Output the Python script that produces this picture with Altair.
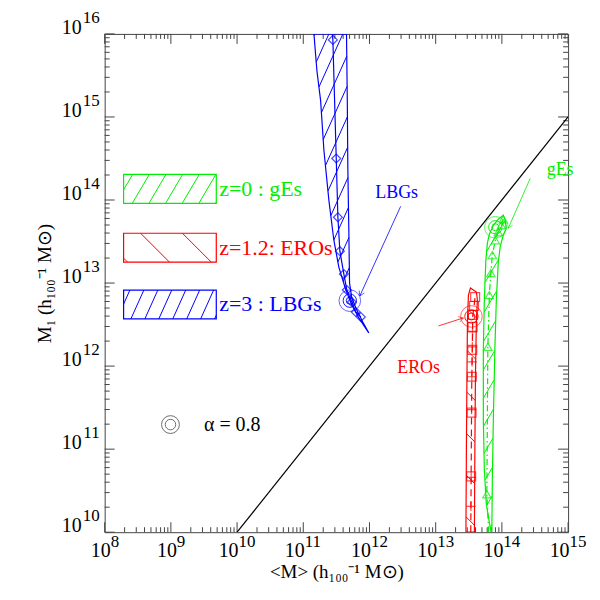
import altair as alt
import numpy as np
import pandas as pd

# ---------------- data (log10 units) ----------------
x_major = list(range(8, 16))          # <M> decades
y_major = list(range(10, 17))         # M1 decades
minor_factors = [2, 3, 4, 5, 6, 7, 8, 9]

diag_x = [10.0, 15.0]
diag_y = [10.0, 15.0]

# z=3 LBGs
lbg_left_x = [11.161, 11.206, 11.262, 11.312, 11.387, 11.462, 11.537, 11.643, 11.733, 11.839, 11.989]
lbg_left_y = [16.0, 15.556, 15.196, 14.596, 13.996, 13.516, 13.192, 12.916, 12.736, 12.580, 12.400]
lbg_right_x = [11.653, 11.665, 11.673, 11.688, 11.699, 11.733, 11.808, 11.899, 11.989]
lbg_right_y = [16.0, 15.196, 14.392, 13.636, 13.000, 12.820, 12.676, 12.532, 12.400]
lbg_mid_x = [11.447, 11.498, 11.523, 11.553, 11.613, 11.658, 11.733, 11.793, 11.869]
lbg_mid_y = [15.928, 14.500, 13.792, 13.384, 13.108, 12.916, 12.772, 12.652, 12.592]
lbg_top_x, lbg_top_y = 11.440, 16.0

# z=1.2 EROs
ero_left_x = [13.457, 13.464, 13.472, 13.480, 13.495, 13.525]
ero_left_y = [10.0, 10.996, 11.836, 12.556, 12.856, 12.940]
ero_right_x = [13.585, 13.592, 13.600, 13.615, 13.630, 13.615]
ero_right_y = [10.0, 10.996, 11.836, 12.556, 12.796, 12.892]
ero_mid_x = [13.530, 13.545, 13.560, 13.596]
ero_mid_y = [10.0, 11.8, 12.6, 12.832]
ero_sq_y = [12.832, 12.724, 12.616, 12.472, 12.196, 11.872, 11.440, 10.672]
ero_plus_y = [12.412, 12.232, 12.052, 11.872, 11.476, 10.660, 10.312]

# z=0 gEs
ges_left_x = [13.836, 13.765, 13.735, 13.720, 13.720, 13.735, 13.758, 13.781, 13.811, 13.871, 13.946, 14.021]
ges_left_y = [10.0, 10.336, 10.756, 11.356, 12.196, 12.796, 13.276, 13.480, 13.588, 13.696, 13.768, 13.816]
ges_right_x = [13.848, 13.856, 13.871, 13.894, 13.916, 13.946, 13.976, 14.021, 14.066, 14.051, 14.021]
ges_right_y = [10.0, 10.636, 11.356, 12.196, 12.796, 13.252, 13.444, 13.576, 13.660, 13.756, 13.816]
ges_mid_x = [13.773, 13.788, 13.811, 13.833, 13.856, 13.901, 13.946, 13.991, 14.021]
ges_mid_y = [10.456, 12.232, 12.856, 13.120, 13.336, 13.516, 13.612, 13.696, 13.768]
ges_bot_x, ges_bot_y = 13.800, 10.0

# alpha = 0.8 points
alpha_x = {"LBG": 11.703, "ERO": 13.540, "GES": 13.901}
alpha_y = {"LBG": 12.788, "ERO": 12.598, "GES": 13.672}

# labels and pointers
lbl_text = {"LBG": "LBGs", "ERO": "EROs", "GES": "gEs"}
lbl_x = {"LBG": 12.411, "ERO": 12.742, "GES": 14.880}
lbl_y = {"LBG": 14.080, "ERO": 11.980, "GES": 14.356}
ptr_x = {"LBG": [12.471, 11.854], "ERO": [13.043, 13.419], "GES": [14.428, 14.096]}
ptr_y = {"LBG": [13.924, 12.844], "ERO": [12.484, 12.580], "GES": [14.260, 13.660]}

legend_labels = {"GES": "z=0 : gEs", "ERO": "z=1.2: EROs", "LBG": "z=3 : LBGs"}
alpha_label = "α = 0.8"

# ---------------- layout / style ----------------
W, H = 465, 500
PXX, PXY = W / 7.0, H / 6.0
FONT = "Liberation Serif"
COL = {"GES": "#00ee00", "ERO": "#ff0000", "LBG": "#0000ff"}
HATCH = {"GES": (0.59, 16.7), "ERO": (-1.0, 42.0), "LBG": (0.45, 14.0)}
leg_x = [8.286, 9.686]
leg_y = {"GES": [13.960, 14.308], "ERO": [13.252, 13.600], "LBG": [12.568, 12.916]}
leg_text_x = 9.73
alpha_leg_x, alpha_leg_y, alpha_txt_x = 8.994, 11.296, 9.50
FRAME = "#444444"

xs = alt.Scale(domain=[8, 15], nice=False, zero=False)
ys = alt.Scale(domain=[10, 16], nice=False, zero=False)
x_axis = alt.Axis(title="<M> (h₁₀₀⁻¹ M⊙)", labels=False, ticks=False, domain=False, grid=False,
                  titleFont=FONT, titleFontSize=19, titleFontWeight="normal", titleColor="black",
                  titlePadding=30)
y_axis = alt.Axis(title="M₁ (h₁₀₀⁻¹ M⊙)", labels=False, ticks=False, domain=False, grid=False,
                  titleFont=FONT, titleFontSize=19, titleFontWeight="normal", titleColor="black",
                  titlePadding=50)


def X(f="x"):
    return alt.X(f, type="quantitative", scale=xs, axis=x_axis)


def Y(f="y"):
    return alt.Y(f, type="quantitative", scale=ys, axis=y_axis)


def hatch(lx, ly, rx, ry, k, spacing):
    lxp = (np.asarray(lx) - 8) * PXX
    lyp = (np.asarray(ly) - 10) * PXY
    rxp = (np.asarray(rx) - 8) * PXX
    ryp = (np.asarray(ry) - 10) * PXY
    y0 = max(lyp.min(), ryp.min())
    y1 = min(lyp.max(), ryp.max())
    yy = np.linspace(y0, y1, 4000)
    oL, oR = np.argsort(lyp), np.argsort(ryp)
    xl = np.interp(yy, lyp[oL], lxp[oL])
    xr = np.interp(yy, ryp[oR], rxp[oR])
    cmin = (np.minimum(xl, xr) - k * yy).min()
    cmax = (np.maximum(xl, xr) - k * yy).max()
    segs = []
    for c in np.arange(np.floor(cmin / spacing) * spacing, cmax + spacing, spacing):
        xline = c + k * yy
        idx = np.where((xline >= xl) & (xline <= xr))[0]
        if len(idx) < 2:
            continue
        runs = np.split(idx, np.where(np.diff(idx) > 1)[0] + 1)
        for run in runs:
            if len(run) < 2:
                continue
            a, b = run[0], run[-1]
            segs.append({"x": (c + k * yy[a]) / PXX + 8, "y": yy[a] / PXY + 10,
                         "x2": (c + k * yy[b]) / PXX + 8, "y2": yy[b] / PXY + 10})
    return pd.DataFrame(segs)


def seg_layer(df, color, width=1.0, dash=None, clip=True):
    kw = dict(color=color, strokeWidth=width, clip=clip)
    if dash:
        kw["strokeDash"] = dash
    return alt.Chart(df).mark_rule(**kw).encode(x=X("x"), y=Y("y"), x2="x2", y2="y2")


def poly_layer(px, py, color, width=1.2, dash=None, closed=True):
    px, py = list(px), list(py)
    if closed:
        px, py = px + [px[0]], py + [py[0]]
    df = pd.DataFrame({"x": px, "y": py, "o": range(len(px))})
    kw = dict(color=color, strokeWidth=width, clip=True)
    if dash:
        kw["strokeDash"] = dash
    return alt.Chart(df).mark_line(**kw).encode(x=X("x"), y=Y("y"), order="o:Q")


layers = []

# ---- frame ticks ----
xmin = [np.log10(f) + d for d in x_major[:-1] for f in minor_factors]
ymin = [np.log10(f) + d for d in y_major[:-1] for f in minor_factors]
dxM = pd.DataFrame({"v": x_major})
dxm = pd.DataFrame({"v": xmin})
dyM = pd.DataFrame({"v": y_major})
dym = pd.DataFrame({"v": ymin})
for df, L in [(dxM, 10), (dxm, 5)]:
    layers.append(alt.Chart(df).mark_rule(color=FRAME, strokeWidth=1).encode(
        x=X("v"), y=alt.value(H), y2=alt.value(H - L)))
    layers.append(alt.Chart(df).mark_rule(color=FRAME, strokeWidth=1).encode(
        x=X("v"), y=alt.value(0), y2=alt.value(L)))
for df, L in [(dyM, 10), (dym, 5)]:
    layers.append(alt.Chart(df).mark_rule(color=FRAME, strokeWidth=1).encode(
        y=Y("v"), x=alt.value(0), x2=alt.value(L)))
    layers.append(alt.Chart(df).mark_rule(color=FRAME, strokeWidth=1).encode(
        y=Y("v"), x=alt.value(W), x2=alt.value(W - L)))

# ---- tick labels ----
for sel, dx in [([e for e in x_major if e < 10], 6), ([e for e in x_major if e >= 10], 1.5)]:
    df = pd.DataFrame({"v": sel, "e": [str(e) for e in sel]})
    layers.append(alt.Chart(df).mark_text(font=FONT, fontSize=20, align="right", baseline="alphabetic",
                                          dx=dx, color="black").encode(
        x=X("v"), y=alt.value(H + 25), text=alt.value("10")))
    layers.append(alt.Chart(df).mark_text(font=FONT, fontSize=17, align="left", baseline="alphabetic",
                                          dx=dx, color="black").encode(
        x=X("v"), y=alt.value(H + 15), text="e:N"))
dfy = pd.DataFrame({"v": y_major, "e": [str(e) for e in y_major]})
layers.append(alt.Chart(dfy).mark_text(font=FONT, fontSize=20, align="right", baseline="alphabetic",
                                       color="black").encode(
    y=Y("v"), x=alt.value(-23), text=alt.value("10")))
layers.append(alt.Chart(dfy).mark_text(font=FONT, fontSize=17, align="right", baseline="alphabetic",
                                       dy=-11, color="black").encode(
    y=Y("v"), x=alt.value(-5), text="e:N"))

# ---- 1:1 line ----
layers.append(alt.Chart(pd.DataFrame({"x": diag_x, "y": diag_y})).mark_line(
    color="black", strokeWidth=1.2, clip=True).encode(x=X("x"), y=Y("y")))

# ---- bands ----
bands = {
    "LBG": (lbg_left_x, lbg_left_y, lbg_right_x, lbg_right_y),
    "ERO": (ero_left_x, ero_left_y, ero_right_x, ero_right_y),
    "GES": (ges_left_x, ges_left_y, ges_right_x, ges_right_y),
}
for key, (lx, ly, rx, ry) in bands.items():
    k, sp = HATCH[key]
    layers.append(seg_layer(hatch(lx, ly, rx, ry, k, sp), COL[key], 1.0))
    layers.append(poly_layer(list(lx) + list(rx)[::-1], list(ly) + list(ry)[::-1], COL[key], 1.2))

# centre lines and markers
layers.append(poly_layer([lbg_top_x] + lbg_mid_x, [lbg_top_y] + lbg_mid_y, COL["LBG"], 1.2, closed=False))
layers.append(alt.Chart(pd.DataFrame({"x": lbg_mid_x, "y": lbg_mid_y})).mark_point(
    shape="diamond", filled=False, color=COL["LBG"], size=80, strokeWidth=1.2, clip=True).encode(
    x=X("x"), y=Y("y")))

layers.append(poly_layer(ero_mid_x, ero_mid_y, COL["ERO"], 1.2, dash=[7, 5], closed=False))
ero_sq_x = list(np.interp(ero_sq_y, ero_mid_y, ero_mid_x))
ero_plus_x = list(np.interp(ero_plus_y, ero_mid_y, ero_mid_x))
layers.append(alt.Chart(pd.DataFrame({"x": ero_sq_x, "y": ero_sq_y})).mark_point(
    shape="square", filled=False, color=COL["ERO"], size=80, strokeWidth=1.2, clip=True).encode(
    x=X("x"), y=Y("y")))
layers.append(alt.Chart(pd.DataFrame({"x": ero_plus_x, "y": ero_plus_y})).mark_point(
    shape="M-1,0L1,0M0,-1L0,1", filled=False, color=COL["ERO"], size=90, strokeWidth=1.2, clip=True).encode(
    x=X("x"), y=Y("y")))

layers.append(poly_layer([ges_bot_x] + ges_mid_x, [ges_bot_y] + ges_mid_y, COL["GES"], 1.2,
                         dash=[6, 3, 1.5, 3], closed=False))
layers.append(alt.Chart(pd.DataFrame({"x": ges_mid_x, "y": ges_mid_y})).mark_point(
    shape="triangle-up", filled=False, color=COL["GES"], size=70, strokeWidth=1.2, clip=True).encode(
    x=X("x"), y=Y("y")))

# ---- alpha circles, pointers (with arrow heads), labels ----
for key in ["LBG", "ERO", "GES"]:
    dfc = pd.DataFrame({"x": [alpha_x[key]], "y": [alpha_y[key]]})
    for sz, op in [(470, 0.6), (180, 0.9), (50, 0.9)]:
        layers.append(alt.Chart(dfc).mark_point(shape="circle", filled=False, color=COL[key], size=sz,
                                                strokeWidth=1, opacity=op).encode(x=X("x"), y=Y("y")))
    px, py = ptr_x[key], ptr_y[key]
    layers.append(alt.Chart(pd.DataFrame({"x": [px[0]], "y": [py[0]], "x2": [px[1]], "y2": [py[1]]})).mark_rule(
        color=COL[key], strokeWidth=0.8).encode(x=X("x"), y=Y("y"), x2="x2", y2="y2"))
    ang = float(np.degrees(np.arctan2(-(py[1] - py[0]) * PXY, (px[1] - px[0]) * PXX))) % 360
    layers.append(alt.Chart(pd.DataFrame({"x": [px[1]], "y": [py[1]]})).mark_point(
        shape="M-1,-0.6L0,0L-1,0.6", filled=False, color=COL[key], size=90, strokeWidth=0.8,
        angle=ang).encode(x=X("x"), y=Y("y")))
    layers.append(alt.Chart(pd.DataFrame({"x": [lbl_x[key]], "y": [lbl_y[key]], "t": [lbl_text[key]]})).mark_text(
        font=FONT, fontSize=18, color=COL[key]).encode(x=X("x"), y=Y("y"), text="t:N"))

# ---- legend ----
for key in ["GES", "ERO", "LBG"]:
    y0, y1 = leg_y[key]
    k, sp = HATCH[key]
    layers.append(seg_layer(hatch([leg_x[0]] * 2, [y0, y1], [leg_x[1]] * 2, [y0, y1], k, sp), COL[key], 1.0))
    layers.append(alt.Chart(pd.DataFrame({"x": [leg_x[0]], "y": [y0], "x2": [leg_x[1]], "y2": [y1]})).mark_rect(
        fill=None, fillOpacity=0, stroke=COL[key], strokeWidth=1.2).encode(x=X("x"), y=Y("y"), x2="x2", y2="y2"))
    layers.append(alt.Chart(pd.DataFrame({"x": [leg_text_x], "y": [(y0 + y1) / 2], "t": [legend_labels[key]]})).mark_text(
        font=FONT, fontSize=22, color=COL[key], align="left", baseline="middle").encode(
        x=X("x"), y=Y("y"), text="t:N"))

dfa = pd.DataFrame({"x": [alpha_leg_x], "y": [alpha_leg_y]})
for sz in [320, 110]:
    layers.append(alt.Chart(dfa).mark_point(shape="circle", filled=False, color="black", size=sz,
                                            strokeWidth=0.8).encode(x=X("x"), y=Y("y")))
layers.append(alt.Chart(pd.DataFrame({"x": [alpha_txt_x], "y": [alpha_leg_y], "t": [alpha_label]})).mark_text(
    font=FONT, fontSize=20, color="black", align="left", baseline="middle").encode(x=X("x"), y=Y("y"), text="t:N"))

chart = alt.layer(*layers).properties(
    width=W, height=H,
    autosize=alt.AutoSizeParams(type="none"),
    padding={"left": 97, "top": 25, "right": 24, "bottom": 58},
    background="white",
).configure_view(stroke=FRAME, strokeWidth=1)

chart.save("out.html", embed_options={"renderer": "svg", "actions": False})
